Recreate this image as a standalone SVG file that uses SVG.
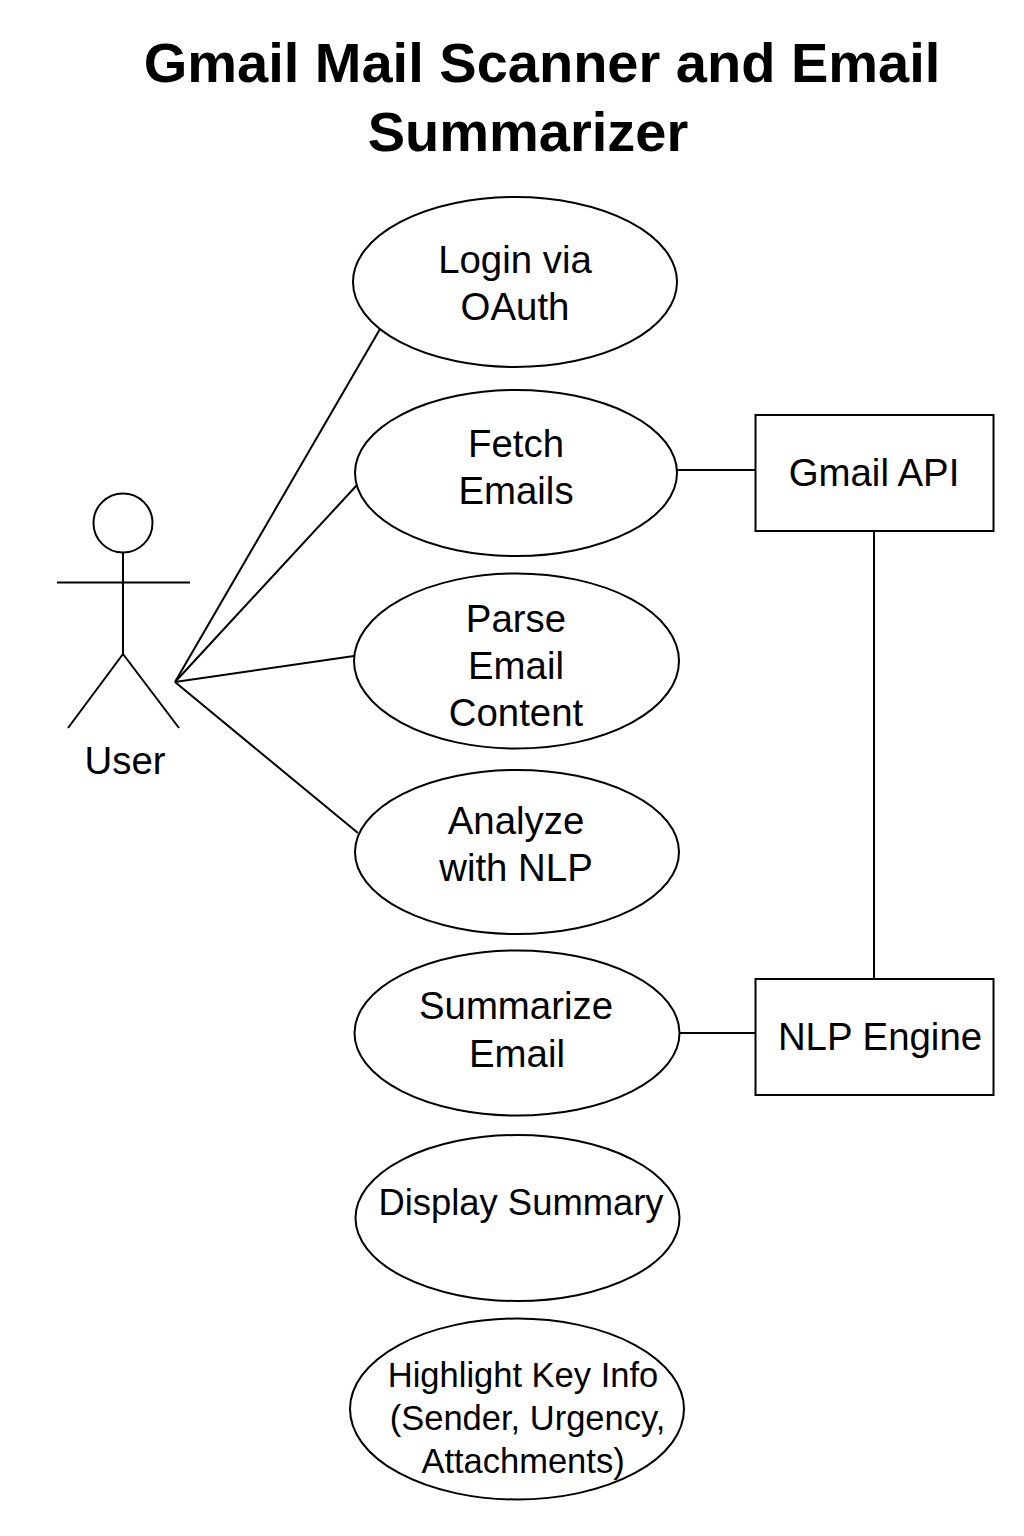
<svg xmlns="http://www.w3.org/2000/svg" width="1024" height="1536" viewBox="0 0 1024 1536">
<style>
text{font-family:"Liberation Sans",Arial,sans-serif;fill:#000;text-anchor:middle}
.t{font-size:56px;font-weight:bold}
.l{font-size:38.400px}
.d{font-size:36.400px}
.s{font-size:34.500px}
ellipse,rect,circle{fill:#fff;stroke:#000;stroke-width:2}
line{stroke:#000;stroke-width:2}
</style>
<rect width="1024" height="1536" style="fill:#fff;stroke:none"/>
<g id="title"><text class="t" x="542" y="82">Gmail Mail Scanner and Email</text><text class="t" x="528" y="151">Summarizer</text></g>
<g id="connectors">
<line x1="175" y1="682" x2="380" y2="329"/>
<line x1="175" y1="682" x2="357" y2="485"/>
<line x1="175" y1="682" x2="354" y2="656"/>
<line x1="175" y1="682" x2="358" y2="833"/>
<line x1="677" y1="470" x2="756" y2="470"/>
<line x1="679" y1="1033" x2="756" y2="1033"/>
<line x1="874" y1="531" x2="874" y2="979"/>
</g>
<g id="user">
<circle cx="123" cy="523" r="29.500"/>
<line x1="123" y1="552" x2="123" y2="654"/>
<line x1="57" y1="582.500" x2="190" y2="582.500"/>
<line x1="123" y1="654" x2="68" y2="728"/>
<line x1="123" y1="654" x2="179" y2="728"/>
<text class="l" x="125" y="774">User</text>
</g>
<g id="login"><ellipse cx="515" cy="282" rx="162" ry="85"/><text class="l" x="515" y="273">Login via</text><text class="l" x="515" y="320">OAuth</text></g>
<g id="fetch"><ellipse cx="516" cy="473" rx="161" ry="83"/><text class="l" x="516" y="456.500">Fetch</text><text class="l" x="516" y="503.500">Emails</text></g>
<g id="parse"><ellipse cx="516.500" cy="661" rx="162.500" ry="87.500"/><text class="l" x="516" y="632">Parse</text><text class="l" x="516" y="678.500">Email</text><text class="l" x="516" y="725.500">Content</text></g>
<g id="analyze"><ellipse cx="517" cy="852" rx="162" ry="82"/><text class="l" x="516" y="834">Analyze</text><text class="l" x="516" y="881">with NLP</text></g>
<g id="summarize"><ellipse cx="517" cy="1033" rx="162.500" ry="82.500"/><text class="l" x="516" y="1019">Summarize</text><text class="l" x="517" y="1067">Email</text></g>
<g id="display"><ellipse cx="517.500" cy="1218" rx="162" ry="83"/><text class="d" x="521" y="1215">Display Summary</text></g>
<g id="highlight"><ellipse cx="517" cy="1409" rx="167" ry="90.500"/><text class="s" x="523" y="1387">Highlight Key Info</text><text class="s" x="527.500" y="1430">(Sender, Urgency,</text><text class="s" x="523" y="1473">Attachments)</text></g>
<g id="gmail-api"><rect x="755.500" y="415" width="238" height="116"/><text class="l" x="874" y="486">Gmail API</text></g>
<g id="nlp-engine"><rect x="755.500" y="979" width="238" height="116"/><text class="l" x="880" y="1050">NLP Engine</text></g>
</svg>
